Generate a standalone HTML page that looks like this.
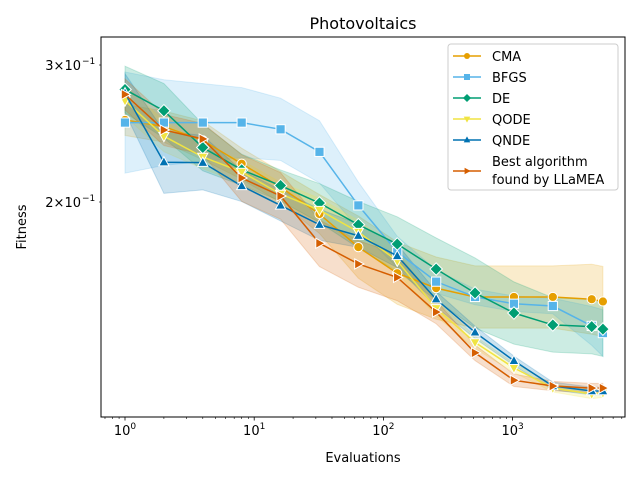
<!DOCTYPE html>
<html><head><meta charset="utf-8"><style>
body{margin:0;background:#fff;}
svg text{font-family:"DejaVu Sans","Liberation Sans",sans-serif;}
</style></head><body>
<svg id="chart" width="640" height="480" xmlns="http://www.w3.org/2000/svg">
<rect width="640" height="480" fill="#fff"/>
<g id="bands"></g><g id="lines"></g><g id="axes"></g><g id="legend"></g>
</svg>
<script>
const evals=[1,2,4,8,16,32,64,128,256,512,1024,2048,4096,5000];
const seriesNames=["CMA","BFGS","DE","QODE","QNDE","Best algorithm found by LLaMEA"];
const cmaVals=[0.255,0.250,0.240,0.224,0.209,0.193,0.175,0.162,0.155,0.151,0.151,0.151,0.150,0.149];
const bfgsVals=[0.253,0.253,0.253,0.253,0.248,0.232,0.198,0.1725,0.158,0.151,0.148,0.147,0.1386,0.1357];
const deVals=[0.279,0.262,0.235,0.220,0.210,0.1994,0.187,0.1766,0.164,0.1528,0.144,0.139,0.1383,0.1373];
const qodeVals=[0.270,0.243,0.2285,0.2186,0.2048,0.1953,0.183,0.168,0.146,0.132,0.1224,0.1153,0.1133,0.1137];
const qndeVals=[0.276,0.225,0.2247,0.2097,0.198,0.187,0.181,0.1705,0.150,0.136,0.125,0.116,0.1143,0.1143];
const bestVals=[0.275,0.2475,0.241,0.2147,0.2036,0.177,0.1665,0.160,0.1444,0.128,0.118,0.116,0.1153,0.1153];
const cmaSpread=[0.02,0.02,0.025,0.02,0.02,0.025,0.04,0.04,0.04,0.04,0.04,0.04,0.045,0.045];
const bfgsSpread=[0.065,0.055,0.05,0.045,0.04,0.04,0.03,0.02,0.015,0.01,0.01,0.01,0.025,0.03];
const deSpread=[0.03,0.035,0.03,0.02,0.02,0.025,0.03,0.035,0.04,0.045,0.04,0.035,0.035,0.035];
const qodeSpread=[0.02,0.02,0.015,0.015,0.015,0.015,0.015,0.015,0.01,0.008,0.006,0.005,0.006,0.006];
const qndeSpread=[0.025,0.04,0.035,0.02,0.02,0.02,0.015,0.015,0.01,0.008,0.006,0.005,0.005,0.005];
const bestSpread=[0.02,0.02,0.02,0.03,0.03,0.03,0.03,0.03,0.015,0.01,0.008,0.006,0.006,0.006];
const yTickVals=[0.2,0.3];
const yTickLabels=["2\u00d710","3\u00d710"];
const xTickExps=[0,1,2,3];

const NS="http://www.w3.org/2000/svg";
const L=101,R=625,T=37,B=417;
const X=v=>125+129.2*Math.log10(v);
const Y=v=>202-778*Math.log10(v/0.2);
function mk(tag,attrs,parent){const e=document.createElementNS(NS,tag);for(const k in attrs)e.setAttribute(k,attrs[k]);parent.appendChild(e);return e;}
const series=[
 {vals:cmaVals,spread:cmaSpread,color:"#E69F00",m:"circle",key:"cma"},
 {vals:bfgsVals,spread:bfgsSpread,color:"#56B4E9",m:"square",key:"bfgs"},
 {vals:deVals,spread:deSpread,color:"#009E73",m:"diamond",key:"de"},
 {vals:qodeVals,spread:qodeSpread,color:"#F0E442",m:"tridown",key:"qode"},
 {vals:qndeVals,spread:qndeSpread,color:"#0072B2",m:"triup",key:"qnde"},
 {vals:bestVals,spread:bestSpread,color:"#D55E00",m:"triright",key:"best"}];
function marker(p,type,x,y,c,s,stroke){
 let e;
 if(type==="circle")e=mk("circle",{cx:x,cy:y,r:s},p);
 else if(type==="square")e=mk("rect",{x:x-s,y:y-s,width:2*s,height:2*s},p);
 else{let pts;
  if(type==="diamond")pts=[[0,-s*1.35],[s*1.35,0],[0,s*1.35],[-s*1.35,0]];
  else if(type==="triup")pts=[[0,-s*1.2],[s*1.1,s*0.8],[-s*1.1,s*0.8]];
  else if(type==="tridown")pts=[[0,s*1.2],[s*1.1,-s*0.8],[-s*1.1,-s*0.8]];
  else pts=[[s*1.2,0],[-s*0.8,-s*1.1],[-s*0.8,s*1.1]];
  e=mk("polygon",{points:pts.map(q=>(x+q[0])+","+(y+q[1])).join(" ")},p);}
 e.setAttribute("fill",c);e.setAttribute("stroke",stroke);e.setAttribute("stroke-width",stroke==="none"?0:1);
 return e;}
const bandG=document.getElementById("bands"),lineG=document.getElementById("lines");
series.forEach(s=>{
 const up=s.vals.map((v,i)=>[X(evals[i]),Y(v*Math.pow(10,s.spread[i]))]);
 const lo=s.vals.map((v,i)=>[X(evals[i]),Y(v/Math.pow(10,s.spread[i]))]).reverse();
 const b=mk("polygon",{points:up.concat(lo).map(q=>q.join(",")).join(" "),fill:s.color,"fill-opacity":0.2,stroke:s.color,"stroke-opacity":0.2},bandG);
 
 
});
series.forEach(s=>{
 const pl=mk("polyline",{points:s.vals.map((v,i)=>X(evals[i])+","+Y(v)).join(" "),fill:"none",stroke:s.color,"stroke-width":1.5},lineG);
 
 
 s.vals.forEach((v,i)=>{const m=marker(lineG,s.m,X(evals[i]),Y(v),s.color,4.6,"#fff");
  
  });
});
const ax=document.getElementById("axes");
const fr=mk("rect",{x:L,y:T,width:R-L,height:B-T,fill:"none",stroke:"#000","stroke-width":1},ax);


for(let e=-1;e<=3;e++){for(let k=1;k<10;k++){const v=k*Math.pow(10,e);const x=X(v);if(x<L||x>R)continue;
 mk("line",{x1:x,x2:x,y1:B,y2:B+(k===1?3.5:2),stroke:"#000","stroke-width":k===1?0.8:0.6},ax);}}
xTickExps.forEach(e=>{const t=mk("text",{x:X(Math.pow(10,e)),y:B+18,"text-anchor":"middle","font-size":13},ax);
 
 
 t.innerHTML="10<tspan dy='-6' font-size='9'>"+e+"</tspan>";});
yTickVals.forEach((v,i)=>{const y=Y(v);mk("line",{x1:L-2,x2:L,y1:y,y2:y,stroke:"#000","stroke-width":0.6},ax);
 const t=mk("text",{x:L-20,y:y+5,"text-anchor":"end","font-size":13},ax);
 
 
 t.textContent=yTickLabels[i];
 const s=mk("text",{x:L-19,y:y-1,"text-anchor":"start","font-size":9},ax);s.textContent="\u22121";
 
 });
const tt=mk("text",{x:363,y:29,"text-anchor":"middle","font-size":16},ax);tt.textContent="Photovoltaics";


const xt=mk("text",{x:363,y:462,"text-anchor":"middle","font-size":13},ax);xt.textContent="Evaluations";


const yt=mk("text",{x:26,y:227,"text-anchor":"middle","font-size":13,transform:"rotate(-90 26 227)"},ax);yt.textContent="Fitness";


const lg=document.getElementById("legend");
const lb=mk("rect",{x:448,y:44,width:170,height:146,rx:3,fill:"#fff","fill-opacity":0.8,stroke:"#ccc"},lg);


const ly=[56,77,98,119,140,171];
series.forEach((s,i)=>{const g=mk("g",{},lg);
 
 
 mk("line",{x1:453,x2:481,y1:ly[i],y2:ly[i],stroke:s.color,"stroke-width":1.5},g);
 marker(g,s.m,467,ly[i],s.color,3,"none");
 if(i<5){const t=mk("text",{x:492,y:ly[i]+5,"font-size":13},g);t.textContent=seriesNames[i];}
 else{const t=mk("text",{x:492,y:166,"font-size":13},g);t.textContent="Best algorithm";
  const t2=mk("text",{x:492,y:184,"font-size":13},g);t2.textContent="found by LLaMEA";}
});
</script>
</body></html>
